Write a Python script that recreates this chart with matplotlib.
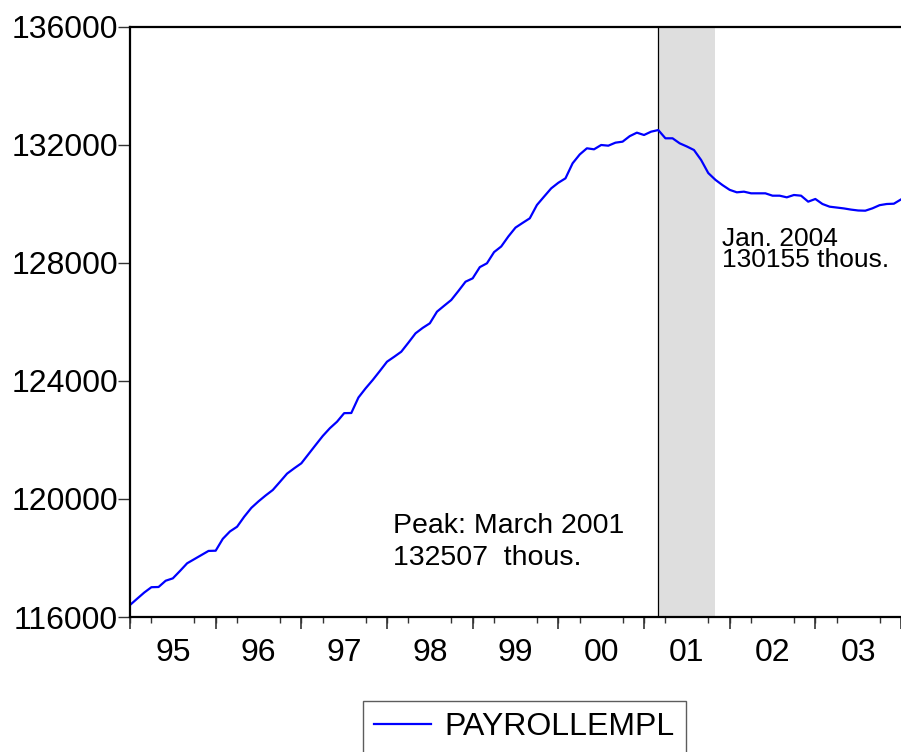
import matplotlib
matplotlib.use("Agg")
import matplotlib.pyplot as plt
import numpy as np

plt.rcParams['font.family'] = ['Liberation Sans', 'DejaVu Sans']

# monthly payroll employment, 1995:01 - 2004:01 (thousands)
payroll = [
    116407, 116620, 116830, 117010, 117017, 117230, 117310, 117560, 117820, 117960, 118100, 118240,  # 1995
    118247, 118650, 118900, 119060, 119400, 119700, 119920, 120120, 120305, 120580, 120860, 121040,  # 1996
    121210, 121520, 121830, 122136, 122400, 122620, 122910, 122915, 123440, 123750, 124034, 124340,  # 1997
    124654, 124820, 124993, 125300, 125617, 125800, 125956, 126350, 126550, 126746, 127050, 127366,  # 1998
    127480, 127860, 127990, 128370, 128560, 128900, 129200, 129360, 129515, 129966, 130250, 130530,  # 1999
    130720, 130870, 131380, 131680, 131888, 131854, 132000, 131977, 132079, 132113, 132300, 132418,  # 2000
    132339, 132452, 132507, 132227, 132227, 132057, 131950, 131830, 131492, 131050, 130820, 130640,  # 2001
    130480, 130396, 130418, 130362, 130362, 130362, 130282, 130282, 130226, 130305, 130282, 130079,  # 2002
    130170, 130000, 129909, 129880, 129850, 129810, 129780, 129773, 129853, 129960, 130000, 130010,  # 2003
    130155,  # 2004:01
]
year_labels = ["95", "96", "97", "98", "99", "00", "01", "02", "03"]
y_ticks = [116000, 120000, 124000, 128000, 132000, 136000]
peak_idx = 74        # 2001:03
trough_idx = 82      # 2001:11
series_name = "PAYROLLEMPL"
peak_text = ["Peak: March 2001", "132507  thous."]
last_text = ["Jan. 2004", "130155 thous."]

fig = plt.figure(figsize=(9.01, 7.52), dpi=100)
ax = fig.add_axes([130 / 901, 1 - 617 / 752, 771 / 901, 590 / 752])

x = np.arange(len(payroll))
ax.axvspan(peak_idx, trough_idx, color='#dedede', lw=0, zorder=0)
ax.axvline(peak_idx, color='black', lw=0.9, zorder=1)
line, = ax.plot(x, payroll, color='#0000ff', lw=1.6, zorder=2, label=series_name)

ax.set_xlim(0, 108)
ax.set_ylim(116000, 136000)

ax.spines['right'].set_visible(False)
for s in ['left', 'top', 'bottom']:
    ax.spines[s].set_linewidth(1.6)
    ax.spines[s].set_color('black')

ax.set_yticks(y_ticks)
ax.set_yticklabels([str(v) for v in y_ticks], fontsize=23)
ax.tick_params(axis='y', direction='out', length=8.6, width=1, color='#333333', pad=0)

# labels centred on mid-year, quarters as short ticks
ax.set_xticks(np.arange(6, 108, 12))
ax.set_xticklabels(year_labels, fontsize=23)
ax.tick_params(axis='x', which='major', length=0, pad=15)
ax.set_xticks(np.arange(0, 109, 3), minor=True)
ax.tick_params(axis='x', which='minor', direction='out', length=4.5, width=1, color='#333333')

sec = ax.secondary_xaxis('bottom')
sec.set_xticks(np.arange(0, 109, 12))
sec.set_xticklabels([])
sec.tick_params(direction='out', length=8.6, width=1.2, color='#333333')
sec.spines['bottom'].set_visible(False)

# baseline of last line anchors the text
ax.text(36.8, 117763, "\n".join(peak_text), fontsize=20.5, va='baseline', ha='left',
        linespacing=1.29)
ax.text(82.9, 127875, "\n".join(last_text), fontsize=19, va='baseline', ha='left',
        linespacing=0.82)

fig.legend(handles=[line], loc='upper left', bbox_to_anchor=(362.7 / 901, 1 - 700.7 / 752),
           borderaxespad=0, fontsize=23, frameon=True, fancybox=False, edgecolor='#333333',
           handlelength=1.8, handletextpad=0.4, borderpad=0.35)
fig.legends[0].get_frame().set_linewidth(1)

fig.savefig("out.png", dpi=100)
